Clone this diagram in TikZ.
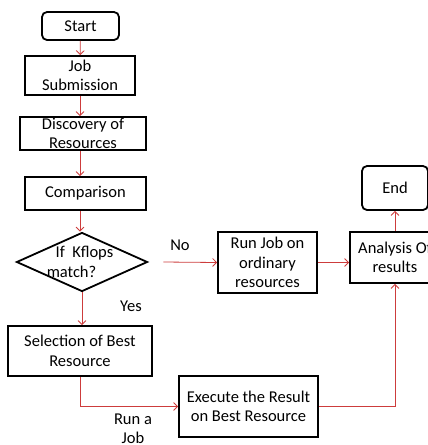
\documentclass[tikz,border=0pt]{standalone}
\usepackage{fontspec}
\setmainfont{Carlito}
\usepackage{tikz}
\usetikzlibrary{shapes.geometric,arrows.meta}

\definecolor{flowred}{RGB}{205,60,60}

\tikzset{
  box/.style={draw=black, line width=1.8pt, align=center, inner sep=1pt},
  roundbox/.style={box, rounded corners=5pt},
  decision/.style={draw=black, line width=1.8pt, shape=diamond, aspect=2.2, inner sep=0pt},
  flow/.style={draw=flowred, line width=0.8pt, -{Straight Barb[length=4pt,width=8pt]}}
}

\begin{document}
\begin{tikzpicture}[x=1pt, y=-1pt, font=\fontsize{16.5}{19.5}\selectfont]
            \clip (0,0) rectangle (428,445);
            % left column
            \node [roundbox, minimum width=77, minimum height=28] (start) at (80.5,26) {Start};
            \node [box, minimum width=110, minimum height=39, inner sep=0pt] (jobsub) at (80,75.5) {Job\\Submission};
            \node [box, minimum width=126, minimum height=33, inner sep=0pt] (discover) at (83,133.5) {Discovery of\\Resources};
            \node [box, minimum width=121, minimum height=33] (compare) at (85.5,193.5) {Comparison};
            % decision
            \node [decision, minimum width=131, minimum height=59] (match) at (82,262) {};
            \node [align=left, inner sep=0pt] (matchtxt) at (80,262) {\hspace{9pt}If\ \ Kflops\\match?};
            \node [box, minimum width=144, minimum height=50] (select) at (80,351) {Selection of Best\\Resource};
            % right part
            \node [box, minimum width=99, minimum height=61, inner sep=0pt] (runjob) at (267.5,262.5) {Run Job on\\ordinary\\resources};
            \node [box, minimum width=90, minimum height=51] (analysis) at (395,257.5) {Analysis Of\\results};
            \node [roundbox, minimum width=66, minimum height=44] (finish) at (395,188) {End};
            \node [box, minimum width=139, minimum height=61] (execute) at (248.5,406.5) {Execute the Result\\on Best Resource};
            % labels
            \node (nolbl) at (180,245) {No};
            \node (yeslbl) at (131,306) {Yes};
            \node [align=center] (runlbl) at (133,429) {Run a\\Job};
            % |
            \draw [flow] (start) -- (jobsub);
            \draw [flow] (jobsub) -- (discover.north -| jobsub);
            \draw [flow] (discover.south -| jobsub) -- (compare.north -| jobsub);
            \draw [flow] (compare.south -| jobsub) -- (match.north -| jobsub);
            \draw [flow] (match.south) -- (select.north -| match);
            % ->
            \draw [flow] ([xshift=15pt]match.east) -- (runjob.west);
            \draw [flow] (runjob.east) -- (analysis.west |- runjob.east);
            \draw [flow] (analysis.north) -- (finish.south);
            \draw [flow] (select.south) |- (execute.west);
            \draw [flow] (execute.east) -| (analysis.south);
\end{tikzpicture}
\end{document}
